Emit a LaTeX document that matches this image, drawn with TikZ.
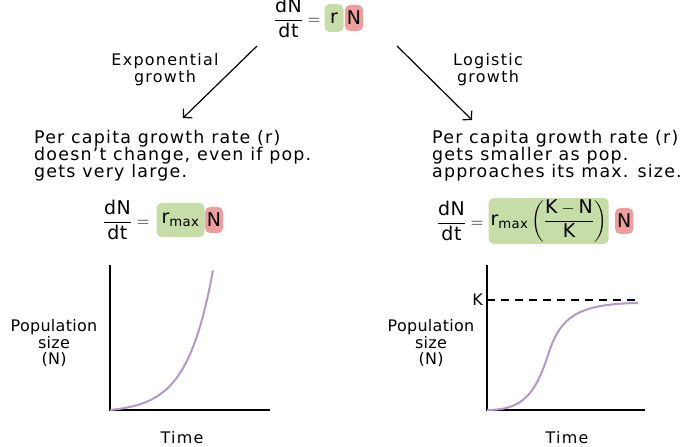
\documentclass[tikz,border=0pt]{standalone}
\usepackage{amsmath}
\usepackage{fontspec}
\setmainfont{DejaVu Sans}
\usetikzlibrary{positioning}
\usetikzlibrary{arrows.meta}

\definecolor{rbox}{RGB}{198,221,168}
\definecolor{nbox}{RGB}{238,158,158}
\definecolor{curve}{RGB}{178,152,202}

\begin{document}
\begin{tikzpicture}[
	  x=1bp, y=-1bp,
	  every node/.style = {font=\fontsize{16}{17}\selectfont, inner sep=1bp},
	  greenbox/.style = {fill=rbox, rounded corners=5bp, inner sep=2bp, minimum height=28bp, minimum width=19bp},
	  redbox/.style = {fill=nbox, rounded corners=5bp, inner sep=2bp, minimum height=26bp, minimum width=18bp},
	  formula/.style = {font=\fontsize{19}{20}\selectfont\addfontfeature{LetterSpace=3}},
	  note/.style = {align=left, font=\fontsize{17.5}{17}\selectfont\addfontfeature{LetterSpace=7}},
	  caption/.style = {align=center, font=\fontsize{16}{17}\selectfont\addfontfeature{LetterSpace=8}},
	  axislabel/.style = {align=center, font=\fontsize{16}{16.5}\selectfont\addfontfeature{LetterSpace=2}},
	  branch/.style = {line width=1.2bp, -{Straight Barb[length=6bp, width=13bp]}},
	  axis/.style = {line width=1.6bp},
	  growth/.style = {curve, line width=2bp}
	]
	  \useasboundingbox (0,0) rectangle (697,447);

	  % top equation
	  \node[formula] (toplhs) at (297,18) {$\dfrac{\text{dN}}{\text{dt}} =$};
	  \node[formula, greenbox, right=3bp of toplhs] (topr) {r};
	  \node[formula, redbox, right=1bp of topr] (topn) {N};

	  % branches
	  \coordinate (expstart) at (257,46);
	  \coordinate (expend) at (183,118);
	  \coordinate (logstart) at (397,46);
	  \coordinate (logend) at (472,120);
	  \draw[branch] (expstart) -- (expend);
	  \draw[branch] (logstart) -- (logend);
	  \node[caption] (explabel) at (165,70) {Exponential\\growth};
	  \node[caption] (loglabel) at (488,70) {Logistic\\growth};

	  % descriptions
	  \node[note, anchor=north west] (expnote) at (33,129) {Per capita growth rate (r)\\doesn't change, even if pop.\\gets very large.};
	  \node[note, anchor=north west] (lognote) at (431,129) {Per capita growth rate (r)\\gets smaller as pop.\\approaches its max. size.};

	  % equations
	  \node[formula] (explhs) at (126,220) {$\dfrac{\text{dN}}{\text{dt}} =$};
	  \node[formula, greenbox, minimum height=34bp, minimum width=48bp, right=6bp of explhs] (expr) {$\text{r}_{\text{max}}$};
	  \node[formula, redbox, right=0bp of expr] (expn) {N};

	  \node[formula] (loglhs) at (460,221) {$\dfrac{\text{dN}}{\text{dt}} =$};
	  \node[formula, greenbox, right=4bp of loglhs, minimum height=42bp] (logr) {$\text{r}_{\text{max}}\left(\dfrac{\text{K}-\text{N}}{\text{K}}\right)$};
	  \node[formula, redbox, right=6bp of logr] (logn) {N};

	  % exponential plot
	  \coordinate (exporigin) at (110,410);
	  \coordinate (exptop) at (110,265);
	  \coordinate (expright) at (270,410);
	  \draw[axis] (exptop) -- (exporigin) -- (expright);
	  \draw[growth] plot[domain=0:1, samples=60] ({110+103*\x}, {410-140*(exp(4*\x)-1)/(exp(4)-1)});
	  \node[axislabel] (expylabel) at (54,343) {Population\\size\\(N)};
	  \node[caption] (expxlabel) at (182,438) {Time};

	  % logistic plot
	  \coordinate (logorigin) at (487,410);
	  \coordinate (logtop) at (487,265);
	  \coordinate (logright) at (645,410);
	  \coordinate (kleft) at (487,300);
	  \coordinate (kright) at (640,300);
	  \draw[axis] (logtop) -- (logorigin) -- (logright);
	  \draw[line width=1.2bp, dash pattern=on 8bp off 6bp] (kleft) -- (kright);
	  \node[caption, left=3bp of kleft] (klabel) {K};
	  \draw[growth] (logorigin) .. controls (522,410) and (535,395) .. (548,355)
	                .. controls (560,318) and (575,304) .. (638,303);
	  \node[axislabel] (logylabel) at (431,343) {Population\\size\\(N)};
	  \node[caption] (logxlabel) at (567,438) {Time};
\end{tikzpicture}
\end{document}
